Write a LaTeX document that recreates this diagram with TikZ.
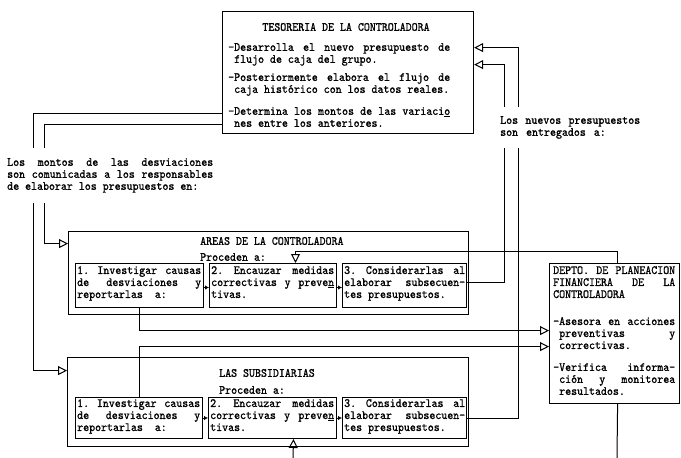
\documentclass[tikz,border=0pt]{standalone}
\usepackage{fontspec}
\usetikzlibrary{arrows.meta}

% typewriter face, a little heavier and taller than the plain one
\newfontfamily\twface{lmmono10-regular.otf}[FakeBold=1.0, FakeStretch=0.91]
% stretchable word spaces, so justified lines can spread
\newcommand\twfont{\twface\fontsize{12.5}{12}\selectfont
  \fontdimen3\font=12pt\fontdimen4\font=1pt\frenchspacing
  \tolerance=10000\hbadness=10000\relax}

\tikzset{
  panel/.style={draw, rectangle, line width=1.2pt, inner sep=0pt, anchor=north west},
  cell/.style={draw, rectangle, line width=1pt, inner sep=0pt, anchor=north west},
  txt/.style={inner sep=0pt, anchor=north west, align=justify, font=\twfont},
  lbl/.style={inner sep=0pt, font=\twfont},
  conn/.style={line width=1pt},
  oarrow/.style={-{Triangle[open,length=9pt,width=9pt]}},
  sarrow/.style={-{Latex[length=4pt,width=4.5pt]}}
}

\begin{document}
\begin{tikzpicture}[x=1pt,y=-1pt]
\useasboundingbox (0,0) rectangle (681,458);

% ---- treasury
\node[panel, minimum width=251, minimum height=122] (tes) at (222,11) {};
\node[lbl] (tesT) at (346,27) {TESORERIA DE LA CONTROLADORA};
\node[txt, text width=222] (tesA) at (228,43)
  {-Desarrolla el nuevo presupuesto de\linebreak\hspace*{6pt}flujo de caja del grupo.};
\node[txt, text width=222] (tesB) at (228,73)
  {-Posteriormente elabora el flujo de\linebreak\hspace*{6pt}caja histórico con los datos reales.};
\node[txt, text width=222] (tesC) at (228,107)
  {-Determina los montos de las variaci\underline{o}\linebreak\hspace*{6pt}nes entre los anteriores.};

% ---- areas of the controlling company
\node[panel, minimum width=400, minimum height=83] (areas) at (68,231) {};
\node[lbl, anchor=west] (areasT) at (200,241) {AREAS DE LA CONTROLADORA};
\node[lbl, anchor=west] (areasP) at (200,257) {Proceden a:};
\node[cell, minimum width=128, minimum height=44] (a1) at (75,263) {};
\node[cell, minimum width=127, minimum height=44] (a2) at (209,263) {};
\node[cell, minimum width=124, minimum height=44] (a3) at (342,263) {};
\node[txt, text width=124] (a1t) at (77,266)
  {1. Investigar causas\linebreak de desviaciones y\linebreak reportarlas\ \ a:};
\node[txt, text width=123] (a2t) at (211,266)
  {2. Encauzar medidas\linebreak correctivas y preve\underline{n}\linebreak tivas.};
\node[txt, text width=121] (a3t) at (344,266)
  {3. Considerarlas al\linebreak elaborar subsecuen-\linebreak tes presupuestos.};

% ---- subsidiaries
\node[panel, minimum width=401, minimum height=89] (sub) at (67,357) {};
\node[lbl, anchor=west] (subT) at (219,373) {LAS SUBSIDIARIAS};
\node[lbl, anchor=west] (subP) at (219,390) {Proceden a:};
\node[cell, minimum width=127, minimum height=41] (s1) at (75,397) {};
\node[cell, minimum width=128, minimum height=41] (s2) at (208,397) {};
\node[cell, minimum width=124, minimum height=41] (s3) at (342,397) {};
\node[txt, text width=123] (s1t) at (77,399)
  {1. Investigar causas\linebreak de desviaciones y\linebreak reportarlas\ \ a:};
\node[txt, text width=124] (s2t) at (210,399)
  {2. Encauzar medidas\linebreak correctivas y preve\underline{n}\linebreak tivas.};
\node[txt, text width=121] (s3t) at (344,399)
  {3. Considerarlas al\linebreak elaborar subsecuen-\linebreak tes presupuestos.};

% ---- financial planning department
\node[panel, minimum width=130, minimum height=140] (dep) at (549,263) {};
\node[txt, text width=122] (depT) at (553,266)
  {DEPTO. DE PLANEACION\linebreak FINANCIERA DE LA\linebreak CONTROLADORA};
\node[txt, text width=122] (depA) at (553,317)
  {-Asesora en acciones\linebreak\hspace*{6pt}preventivas y\linebreak\hspace*{6pt}correctivas.};
\node[txt, text width=122] (depB) at (553,363)
  {-Verifica informa-\linebreak\hspace*{6pt}ción y monitorea\linebreak\hspace*{6pt}resultados.};

% ---- loose ends at the lower edge
\coordinate (downOut) at (617,458);
\coordinate (upIn) at (293,458);

% ---- connectors
\draw[conn, oarrow] ([yshift=-41pt]tes.west) -- ++(-189,0) |- ([yshift=31.5pt]sub.west);
\draw[conn, oarrow] ([yshift=-52pt]tes.west) -- ++(-178,0) |- ([yshift=29.5pt]areas.west);
\draw[conn, oarrow] ([yshift=3pt]a3.east) -- ++(37,0) |- ([yshift=8pt]tes.east);
\draw[conn, oarrow] (s3.east) -- ++(51,0) |- ([yshift=25pt]tes.east);
\draw[conn, oarrow] ([xshift=3pt]dep.north) -- ++(0,-12) -| ([xshift=22.5pt]a2.north);
\draw[conn, oarrow] (a1.south) |- ([yshift=3pt]dep.west);
\draw[conn, oarrow] (s1.north) |- ([yshift=-13pt]dep.west);
\draw[conn] ([xshift=3pt]dep.south) -- (downOut);
\draw[conn, oarrow] (upIn) -- ([xshift=21pt]s2.south);
\draw[conn, sarrow] ([yshift=-2pt]a1.east) -- ([yshift=-2pt]a2.west);
\draw[conn, sarrow] ([yshift=-2pt]a2.east) -- ([yshift=-2pt]a3.west);
\draw[conn, sarrow] (s1.east) -- (s2.west);
\draw[conn, sarrow] (s2.east) -- (s3.west);

% ---- captions laid over the connectors
\node[txt, fill=white, text width=206, inner ysep=10pt] (capL) at (7,148)
  {Los montos de las desviaciones\linebreak son comunicadas a los responsables\linebreak de elaborar los presupuestos en:};
\node[txt, fill=white, text width=140, inner ysep=9pt] (capR) at (500,107)
  {Los nuevos presupuestos\linebreak son\hspace{8pt}entregados\hspace{8pt}a:};
\end{tikzpicture}
\end{document}
